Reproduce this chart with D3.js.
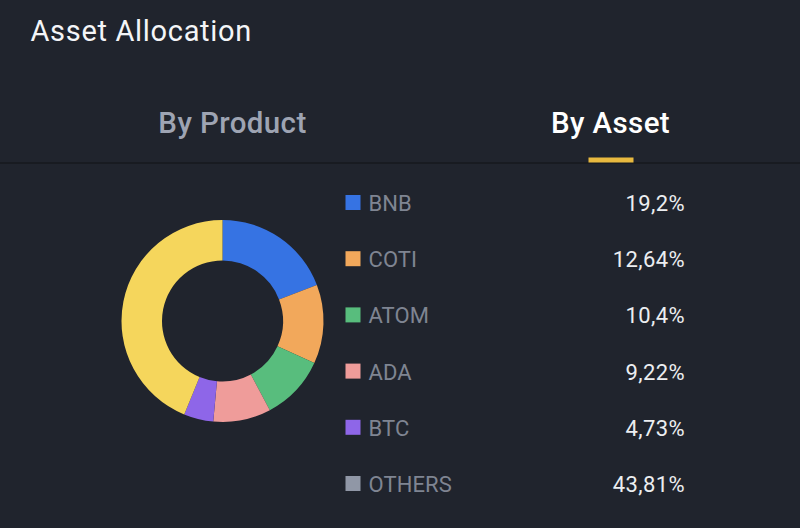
<!DOCTYPE html>
<html><head><meta charset="utf-8">
<script src="https://cdn.jsdelivr.net/npm/d3@7"></script>
<style>html,body{margin:0;padding:0;background:#20242d;overflow:hidden}svg{display:block}text{font-family:"Roboto",sans-serif}</style>
</head><body><svg id="c" width="800" height="528"></svg>
<script>
const categories = ["BNB","COTI","ATOM","ADA","BTC","OTHERS"];
const values = [19.2,12.64,10.4,9.22,4.73,43.81];
const valueLabels = ["19,2%","12,64%","10,4%","9,22%","4,73%","43,81%"];
const sliceColors = ["#3673e3","#f2a85b","#58bd7d","#ef9c9a","#8e66e8","#f5d65c"];
const legendColors = ["#3673e3","#f2a85b","#58bd7d","#ef9c9a","#8e66e8","#9097a6"];
const tabs = ["By Product","By Asset"];
const tabColors = ["#9ea4b3","#ffffff"];
const tabX = [232.5,610.5];

const svg = d3.select("#c");
svg.append("rect").attr("width",800).attr("height",528).attr("fill","#20242d");
svg.append("text").attr("x",30.5).attr("y",41).attr("font-size",29).attr("font-weight",400).attr("letter-spacing",0.68).attr("fill","#f4f5f7").text("Asset Allocation");

svg.selectAll(".tab").data(tabs).join("text").attr("class","tab")
  .attr("x",(d,i)=>tabX[i]).attr("y",133).attr("text-anchor","middle")
  .attr("font-size",29.5).attr("font-weight",500).attr("letter-spacing",0.4)
  .attr("fill",(d,i)=>tabColors[i]).text(d=>d);
svg.append("rect").attr("x",0).attr("y",162).attr("width",800).attr("height",2).attr("fill","#181b21");
svg.append("rect").attr("x",588.5).attr("y",157.5).attr("width",45).attr("height",5).attr("fill","#e8b93f");

const pie = d3.pie().sort(null).value(d=>d);
const arc = d3.arc().innerRadius(60.5).outerRadius(101);
svg.append("g").attr("transform","translate(222.5,321)")
  .selectAll("path").data(pie(values)).join("path")
  .attr("d",arc).attr("fill",(d,i)=>sliceColors[i]);

const y = d3.scalePoint().domain(categories).range([203,484]);
const row = svg.selectAll(".row").data(categories).join("g").attr("class","row")
  .attr("transform",d=>`translate(0,${y(d)})`);
row.append("rect").attr("x",345.5).attr("y",-8).attr("width",15).attr("height",15)
  .attr("fill",(d,i)=>legendColors[i]);
row.append("text").attr("x",368.5).attr("y",8).attr("font-size",22).attr("letter-spacing",0.1)
  .attr("fill","#7f8592").text(d=>d);
row.append("text").attr("x",685).attr("y",8).attr("text-anchor","end").attr("font-size",22).attr("letter-spacing",0.4)
  .attr("fill","#eceef1").text((d,i)=>valueLabels[i]);
</script></body></html>
